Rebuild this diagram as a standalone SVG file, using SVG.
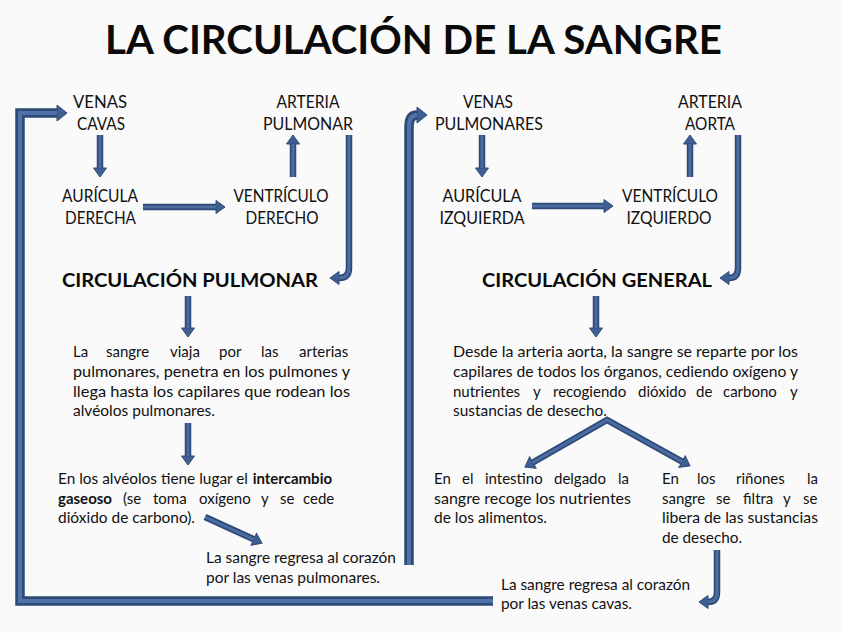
<svg xmlns="http://www.w3.org/2000/svg" width="842" height="633" viewBox="0 0 842 633">
<style>
text{font-family:Lato,"Open Sans","Liberation Sans",sans-serif;fill:#111}
.title{font-size:40px;font-weight:700;fill:#0a0a0a}
.lbl{font-size:17.5px;text-anchor:middle}
.hd{font-size:19.5px;font-weight:700;fill:#0a0a0a}
.tx{font-size:15px}
.b{font-weight:700}
.so{fill:none;stroke:#2e4a77;stroke-width:6.5;stroke-linejoin:miter}
.si{fill:none;stroke:#4a6ca1;stroke-width:3}
.lo{fill:none;stroke:#2e4a77;stroke-width:9.5;stroke-linejoin:miter}
.li{fill:none;stroke:#4f73a9;stroke-width:4}
.m{marker-end:url(#ah)}
.mb{marker-end:url(#ahL)}
</style>
<defs>
<marker id="ah" markerUnits="userSpaceOnUse" markerWidth="12" markerHeight="16" viewBox="0 -8 12 16" refX="0" refY="0" orient="auto-start-reverse" overflow="visible">
<path d="M0,-6.5 L9,0 L0,6.5 z" fill="#3f5f93" stroke="#2e4a77" stroke-width="1"/>
</marker>
<marker id="ahL" markerUnits="userSpaceOnUse" markerWidth="14" markerHeight="20" viewBox="0 -10 14 20" refX="0" refY="0" orient="auto" overflow="visible">
<path d="M0,-8 L10,0 L0,8 z" fill="#3f5f93" stroke="#2e4a77" stroke-width="1"/>
</marker>
</defs>
<rect width="842" height="633" fill="#fafafa"/>

<g id="title"><text class="title" x="105" y="54" textLength="617" lengthAdjust="spacingAndGlyphs">LA CIRCULACIÓN DE LA SANGRE</text></g>

<g id="connectors">
<path class="lo mb" d="M493,601 H20 V113 H57"/>
<path class="li" d="M493,601 H20 V113 H57"/>
<path class="lo mb" d="M409,565 V127 Q409,115 417,115"/>
<path class="li" d="M409,565 V127 Q409,115 417,115"/>
<path class="so m" d="M100,135 V168"/><path class="si" d="M100,135 V168"/>
<path class="so m" d="M143,207 H216"/><path class="si" d="M143,207 H216"/>
<path class="so m" d="M293,177 V144"/><path class="si" d="M293,177 V144"/>
<path class="so m" d="M349,135 V268 Q349,278 339,278"/><path class="si" d="M349,135 V268 Q349,278 339,278"/>
<path class="so m" d="M188,296 V328"/><path class="si" d="M188,296 V328"/>
<path class="so m" d="M188,423 V456"/><path class="si" d="M188,423 V456"/>
<path class="so m" d="M205,517 L253.8,539.3"/><path class="si" d="M205,517 L253.8,539.3"/>
<path class="so m" d="M482,135 V168"/><path class="si" d="M482,135 V168"/>
<path class="so m" d="M532,206 H604"/><path class="si" d="M532,206 H604"/>
<path class="so m" d="M690,177 V144"/><path class="si" d="M690,177 V144"/>
<path class="so m" d="M738,135 V268 Q738,278 729,278"/><path class="si" d="M738,135 V268 Q738,278 729,278"/>
<path class="so m" d="M596,296 V328"/><path class="si" d="M596,296 V328"/>
<path class="so m" d="M532.8,462.5 L607,420 L682.1,461.6" style="marker-start:url(#ah)"/><path class="si" d="M532.8,462.5 L607,420 L682.1,461.6"/>
<path class="so m" d="M717,550 V592 Q717,602 708,602"/><path class="si" d="M717,550 V592 Q717,602 708,602"/>
</g>

<g id="venas-cavas"><text class="lbl" x="100" y="108" textLength="54" lengthAdjust="spacingAndGlyphs">VENAS</text><text class="lbl" x="101" y="130" textLength="48" lengthAdjust="spacingAndGlyphs">CAVAS</text></g>
<g id="arteria-pulmonar"><text class="lbl" x="308" y="108" textLength="63" lengthAdjust="spacingAndGlyphs">ARTERIA</text><text class="lbl" x="308" y="130" textLength="90" lengthAdjust="spacingAndGlyphs">PULMONAR</text></g>
<g id="auricula-derecha"><text class="lbl" x="100" y="202" textLength="76" lengthAdjust="spacingAndGlyphs">AURÍCULA</text><text class="lbl" x="100.5" y="224" textLength="71" lengthAdjust="spacingAndGlyphs">DERECHA</text></g>
<g id="ventriculo-derecho"><text class="lbl" x="281" y="202" textLength="95" lengthAdjust="spacingAndGlyphs">VENTRÍCULO</text><text class="lbl" x="282" y="224" textLength="73" lengthAdjust="spacingAndGlyphs">DERECHO</text></g>

<g id="venas-pulmonares"><text class="lbl" x="488" y="108" textLength="50" lengthAdjust="spacingAndGlyphs">VENAS</text><text class="lbl" x="489" y="130" textLength="108" lengthAdjust="spacingAndGlyphs">PULMONARES</text></g>
<g id="arteria-aorta"><text class="lbl" x="710" y="108" textLength="64" lengthAdjust="spacingAndGlyphs">ARTERIA</text><text class="lbl" x="710" y="130" textLength="50" lengthAdjust="spacingAndGlyphs">AORTA</text></g>
<g id="auricula-izquierda"><text class="lbl" x="482" y="202" textLength="79" lengthAdjust="spacingAndGlyphs">AURÍCULA</text><text class="lbl" x="482" y="224" textLength="85" lengthAdjust="spacingAndGlyphs">IZQUIERDA</text></g>
<g id="ventriculo-izquierdo"><text class="lbl" x="670" y="202" textLength="96" lengthAdjust="spacingAndGlyphs">VENTRÍCULO</text><text class="lbl" x="669" y="224" textLength="85" lengthAdjust="spacingAndGlyphs">IZQUIERDO</text></g>

<g id="circulacion-pulmonar"><text class="hd" x="62" y="287" textLength="256" lengthAdjust="spacingAndGlyphs">CIRCULACIÓN PULMONAR</text></g>
<g id="circulacion-general"><text class="hd" x="482" y="287" textLength="230" lengthAdjust="spacingAndGlyphs">CIRCULACIÓN GENERAL</text></g>

<g id="pulmonar-texto">
<text class="tx" y="357"><tspan x="73">La </tspan><tspan x="106">sangre </tspan><tspan x="170">viaja </tspan><tspan x="219">por </tspan><tspan x="261">las </tspan><tspan x="299">arterias</tspan></text>
<text class="tx" x="73" y="377" textLength="277" lengthAdjust="spacingAndGlyphs">pulmonares, penetra en los pulmones y</text>
<text class="tx" x="73" y="397" textLength="277" lengthAdjust="spacingAndGlyphs">llega hasta los capilares que rodean los</text>
<text class="tx" x="73" y="416" textLength="142" lengthAdjust="spacingAndGlyphs">alvéolos pulmonares.</text>
</g>
<g id="intercambio-texto">
<text class="tx" y="484"><tspan x="58" textLength="190" lengthAdjust="spacingAndGlyphs">En los alvéolos tiene lugar el</tspan><tspan x="249" class="b"> intercambio</tspan></text>
<text class="tx" y="504"><tspan x="58" class="b">gaseoso </tspan><tspan x="123">(se </tspan><tspan x="153">toma </tspan><tspan x="199">oxígeno </tspan><tspan x="261">y </tspan><tspan x="280">se </tspan><tspan x="303">cede</tspan></text>
<text class="tx" x="58" y="523" textLength="137" lengthAdjust="spacingAndGlyphs">dióxido de carbono).</text>
</g>
<g id="regresa-pulmonares">
<text class="tx" x="206" y="563" textLength="190" lengthAdjust="spacingAndGlyphs">La sangre regresa al corazón</text>
<text class="tx" x="206" y="583" textLength="174" lengthAdjust="spacingAndGlyphs">por las venas pulmonares.</text>
</g>

<g id="general-texto">
<text class="tx" x="453" y="357" textLength="345" lengthAdjust="spacingAndGlyphs">Desde la arteria aorta, la sangre se reparte por los</text>
<text class="tx" x="453" y="377" textLength="345" lengthAdjust="spacingAndGlyphs">capilares de todos los órganos, cediendo oxígeno y</text>
<text class="tx" y="397"><tspan x="453">nutrientes </tspan><tspan x="533">y </tspan><tspan x="553">recogiendo </tspan><tspan x="638">dióxido </tspan><tspan x="696">de </tspan><tspan x="723">carbono </tspan><tspan x="790">y</tspan></text>
<text class="tx" x="453" y="416" textLength="154" lengthAdjust="spacingAndGlyphs">sustancias de desecho.</text>
</g>
<g id="intestino-texto">
<text class="tx" y="484"><tspan x="434">En </tspan><tspan x="462">el </tspan><tspan x="485">intestino </tspan><tspan x="554">delgado </tspan><tspan x="618">la</tspan></text>
<text class="tx" x="434" y="504" textLength="197" lengthAdjust="spacingAndGlyphs">sangre recoge los nutrientes</text>
<text class="tx" x="434" y="523" textLength="113" lengthAdjust="spacingAndGlyphs">de los alimentos.</text>
</g>
<g id="rinones-texto">
<text class="tx" y="484"><tspan x="662">En </tspan><tspan x="697">los </tspan><tspan x="736">riñones </tspan><tspan x="807">la</tspan></text>
<text class="tx" y="504"><tspan x="662">sangre </tspan><tspan x="716">se </tspan><tspan x="743">filtra </tspan><tspan x="783">y </tspan><tspan x="803">se</tspan></text>
<text class="tx" x="662" y="523" textLength="156" lengthAdjust="spacingAndGlyphs">libera de las sustancias</text>
<text class="tx" x="662" y="543" textLength="80" lengthAdjust="spacingAndGlyphs">de desecho.</text>
</g>
<g id="regresa-cavas">
<text class="tx" x="501" y="590" textLength="189" lengthAdjust="spacingAndGlyphs">La sangre regresa al corazón</text>
<text class="tx" x="501" y="609" textLength="131" lengthAdjust="spacingAndGlyphs">por las venas cavas.</text>
</g>
</svg>
